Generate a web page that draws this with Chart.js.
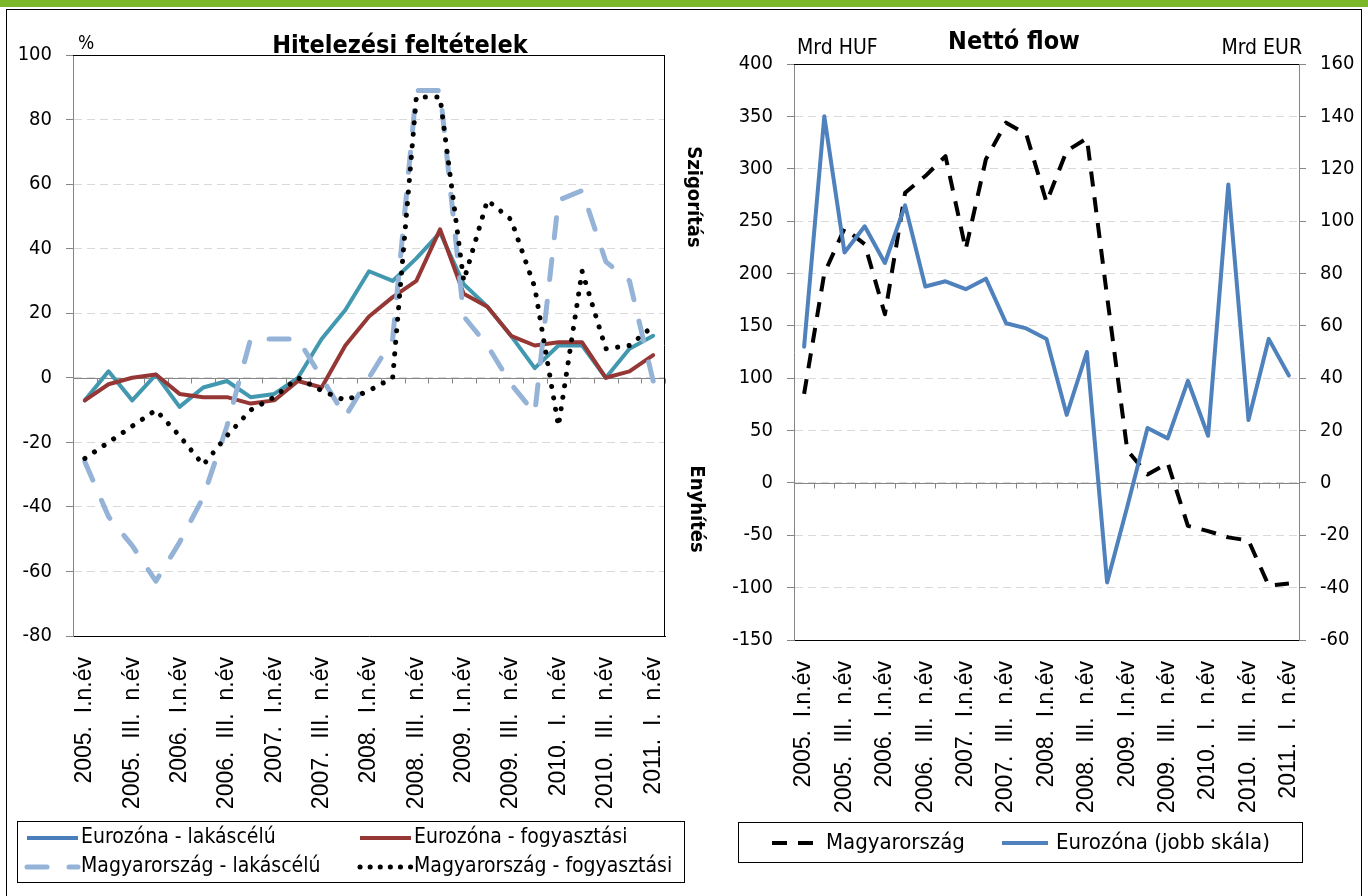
<!DOCTYPE html>
<html>
<head>
<meta charset="utf-8">
<title>Hitelezési feltételek / Nettó flow</title>
<script src="https://cdn.jsdelivr.net/npm/chart.js@4.4.1/dist/chart.umd.min.js"></script>
<style>
  html, body { margin: 0; padding: 0; background: #fff; }
  body { width: 1368px; height: 896px; position: relative; overflow: hidden; }
  .bar { position: absolute; left: 0; top: 0; width: 1368px; height: 7px; background: #7ab829; }
  .frame { position: absolute; left: 6px; top: 9px; width: 1356px; height: 900px; border: 1px solid #000; box-sizing: border-box; }
  canvas { position: absolute; top: 0; }
  #credit { left: 0; }
  #flow { left: 680px; }
</style>
</head>
<body>
<div class="bar"></div>
<div class="frame"></div>
<canvas id="credit" width="700" height="896"></canvas>
<canvas id="flow" width="688" height="896"></canvas>
<script>
// quarterly data, 2005 Q1 - 2011 Q1, only every second quarter is labelled
const quarters = [
  '2005.  I.n.év', '', '2005.  III.  n.év', '', '2006.  I.n.év', '', '2006.  III.  n.év', '',
  '2007.  I.n.év', '', '2007.  III.  n.év', '', '2008.  I.n.év', '', '2008.  III.  n.év', '',
  '2009.  I.n.év', '', '2009.  III.  n.év', '', '2010.  I.  n.év', '', '2010.  III.  n.év', '',
  '2011.  I.  n.év'
];

// Hitelezési feltételek (%)
const ezLakas = [-7, 2, -7, 1, -9, -3, -1, -6, -5, 0, 12, 21, 33, 30, 37, 45, 29, 22, 13, 3, 10, 10, 0, 9, 13];
const ezFogy  = [-7, -2, 0, 1, -5, -6, -6, -8, -7, -1, -3, 10, 19, 25, 30, 46, 26, 22, 13, 10, 11, 11, 0, 2, 7];
const huLakas = [-26, -43, -52, -63, -51, -37, -15, 12, 12, 12, 0, -12, 0, 12, 89, 89, 19, 10, -2, -11, 55, 58, 36, 30, -1];
const huFogy  = [-25, -20, -15, -10, -18, -27, -18, -10, -6, 0, -4, -7, -4, 0, 87, 87, 30, 55, 49, 28, -15, 33, 9, 10, 16];

// Nettó flow: Mrd HUF (left scale), Mrd EUR (right scale)
const huFlow = [85, 200, 243, 228, 161, 277, 293, 312, 223, 309, 344, 333, 268, 317, 329, 178, 31, 8, 19, -41, -46, -52, -55, -98, -96];
const ezFlow = [52, 140, 88, 98, 84, 106, 75, 77, 74, 78, 61, 59, 55, 26, 50, -38, -9, 21, 17, 39, 18, 114, 24, 55, 41];

// axis ranges [min, max, step]
const creditAxis = [-80, 100, 20];
const hufAxis = [-150, 400, 50];
const eurAxis = [-60, 160, 20];

const FONT = "'DejaVu Sans Condensed', 'DejaVu Sans', sans-serif";
const CAT_FONT = "'Liberation Sans', Arial, sans-serif";

// zero line with its tick marks, plot border, extra texts and the boxed legend
const decor = {
  id: 'decor',
  beforeDatasetsDraw(chart, args, opts) {
    const { ctx, chartArea: a, scales: { x, y } } = chart;
    const y0 = Math.round(y.getPixelForValue(0)) + 0.5;
    ctx.save();
    ctx.lineWidth = 1;
    ctx.strokeStyle = '#868686';
    ctx.beginPath();
    ctx.moveTo(a.left, y0);
    ctx.lineTo(a.right, y0);
    for (let i = 1; i <= chart.data.labels.length; i++) {
      const px = Math.round(x.getPixelForValue(i - 0.5)) + 0.5;
      ctx.moveTo(px, y0);
      ctx.lineTo(px, y0 + 5);
    }
    ctx.stroke();
    ctx.strokeStyle = '#000';
    ctx.beginPath();
    ctx.moveTo(a.left, Math.round(a.top) + 0.5);
    ctx.lineTo(a.right, Math.round(a.top) + 0.5);
    if (opts.rightBorder) {
      ctx.moveTo(Math.round(a.right) - 0.5, a.top);
      ctx.lineTo(Math.round(a.right) - 0.5, a.bottom);
    }
    ctx.stroke();
    ctx.restore();
  },
  afterDraw(chart, args, opts) {
    const { ctx } = chart;
    ctx.save();
    ctx.fillStyle = '#000';
    (opts.texts || []).forEach(t => {
      ctx.save();
      ctx.font = t.font;
      ctx.textAlign = t.align || 'left';
      ctx.textBaseline = t.baseline || 'alphabetic';
      ctx.translate(t.x, t.y);
      if (t.rotate) ctx.rotate(t.rotate);
      ctx.fillText(t.text, 0, 0);
      ctx.restore();
    });
    const lg = opts.legend;
    if (lg) {
      ctx.strokeStyle = '#000';
      ctx.lineWidth = 1;
      ctx.strokeRect(lg.box[0] + 0.5, lg.box[1] + 0.5, lg.box[2], lg.box[3]);
      ctx.beginPath();
      ctx.rect(lg.box[0], lg.box[1], lg.box[2], lg.box[3]);
      ctx.clip();
      lg.items.forEach(it => {
        const ds = chart.data.datasets[it.ds];
        ctx.save();
        ctx.strokeStyle = ds.legendColor || ds.borderColor;
        ctx.lineWidth = ds.borderWidth;
        ctx.lineCap = ds.borderCapStyle || 'butt';
        ctx.setLineDash(ds.legendDash || ds.borderDash || []);
        ctx.beginPath();
        ctx.moveTo(it.x, it.y);
        ctx.lineTo(it.x + lg.sample, it.y);
        ctx.stroke();
        ctx.restore();
        ctx.font = lg.font;
        ctx.textAlign = 'left';
        ctx.textBaseline = 'middle';
        ctx.fillText(ds.label, it.x + lg.sample + lg.gap, it.y);
      });
    }
    ctx.restore();
  }
};

function catAxis(h) {
  return {
    type: 'category',
    offset: true,
    grid: { display: false, drawTicks: false },
    border: { display: true, color: '#000', width: 1 },
    ticks: {
      autoSkip: false, maxRotation: 90, minRotation: 90, padding: 21, color: '#000',
      font: { family: CAT_FONT, size: 23 }
    },
    afterFit: s => {
      s.height = h;
      s.paddingLeft = s.paddingRight = s.paddingTop = s.paddingBottom = 0;
    }
  };
}

function valAxis(range, width, pos, onArea) {
  return {
    position: pos,
    min: range[0], max: range[1],
    ticks: { stepSize: range[2], padding: 14, color: '#000', font: { family: FONT, size: 20 } },
    grid: { display: true, drawOnChartArea: onArea, color: '#d9d9d9', tickColor: '#868686', tickLength: 7, lineWidth: 1 },
    border: { display: true, color: '#868686', width: 1, dash: [8, 5] },
    afterFit: s => {
      s.width = width;
      s.paddingTop = s.paddingBottom = 0;
    }
  };
}

const common = {
  responsive: false,
  animation: false,
  devicePixelRatio: 1,
  elements: {
    point: { radius: 0 },
    line: { tension: 0, borderJoinStyle: 'round', borderCapStyle: 'round' }
  }
};

new Chart(document.getElementById('credit'), {
  type: 'line',
  data: {
    labels: quarters,
    datasets: [
      { label: 'Eurozóna - lakáscélú', data: ezLakas, borderColor: '#4198af', legendColor: '#4a7ebb', borderWidth: 4, order: 4 },
      { label: 'Eurozóna - fogyasztási', data: ezFogy, borderColor: '#953735', borderWidth: 4, order: 3 },
      { label: 'Magyarország - lakáscélú', data: huLakas, borderColor: '#95b3d7', borderWidth: 5,
        borderDash: [20, 22], borderCapStyle: 'round', order: 2 },
      { label: 'Magyarország - fogyasztási', data: huFogy, borderColor: '#000', borderWidth: 5,
        borderDash: [0.1, 11.5], legendDash: [0.1, 10], borderCapStyle: 'round', order: 1 }
    ]
  },
  options: {
    ...common,
    layout: { padding: { top: 55, right: 35, left: 0, bottom: 0 } },
    plugins: {
      legend: { display: false },
      tooltip: { enabled: false },
      decor: {
        rightBorder: true,
        texts: [
          { text: 'Hitelezési feltételek', x: 400, y: 53, align: 'center', font: 'bold 25px ' + FONT },
          { text: '%', x: 78, y: 49, font: '19px ' + FONT }
        ],
        legend: {
          box: [17, 821, 667, 61], sample: 51, gap: 3, font: '21px ' + FONT,
          items: [
            { ds: 0, x: 27, y: 838 }, { ds: 1, x: 360, y: 838 },
            { ds: 2, x: 27, y: 867 }, { ds: 3, x: 360, y: 867 }
          ]
        }
      }
    },
    scales: {
      x: catAxis(896 - 636),
      y: valAxis(creditAxis, 73, 'left', true)
    }
  },
  plugins: [decor]
});

new Chart(document.getElementById('flow'), {
  type: 'line',
  data: {
    labels: quarters,
    datasets: [
      { label: 'Magyarország', data: huFlow, yAxisID: 'y', borderColor: '#000', borderWidth: 4,
        borderDash: [15, 11], borderCapStyle: 'butt', order: 2 },
      { label: 'Eurozóna (jobb skála)', data: ezFlow, yAxisID: 'y1', borderColor: '#4f81bd', borderWidth: 4, order: 1 }
    ]
  },
  options: {
    ...common,
    layout: { padding: { top: 64, right: 0, left: 0, bottom: 0 } },
    plugins: {
      legend: { display: false },
      tooltip: { enabled: false },
      decor: {
        rightBorder: false,
        texts: [
          { text: 'Nettó flow', x: 334, y: 49, align: 'center', font: 'bold 25px ' + FONT },
          { text: 'Mrd HUF', x: 117, y: 54, font: '21px ' + FONT },
          { text: 'Mrd EUR', x: 622, y: 54, align: 'right', font: '21px ' + FONT },
          { text: 'Szigorítás', x: 13, y: 197, align: 'center', baseline: 'middle', rotate: Math.PI / 2, font: 'bold 20px ' + FONT },
          { text: 'Enyhítés', x: 16, y: 509, align: 'center', baseline: 'middle', rotate: Math.PI / 2, font: 'bold 20px ' + FONT }
        ],
        legend: {
          box: [58, 822, 564, 40], sample: 46, gap: 8, font: '22px ' + FONT,
          items: [ { ds: 0, x: 92, y: 843 }, { ds: 1, x: 322, y: 843 } ]
        }
      }
    },
    scales: {
      x: catAxis(896 - 640),
      y: valAxis(hufAxis, 114, 'left', true),
      y1: valAxis(eurAxis, 69, 'right', false)
    }
  },
  plugins: [decor]
});
</script>
</body>
</html>
